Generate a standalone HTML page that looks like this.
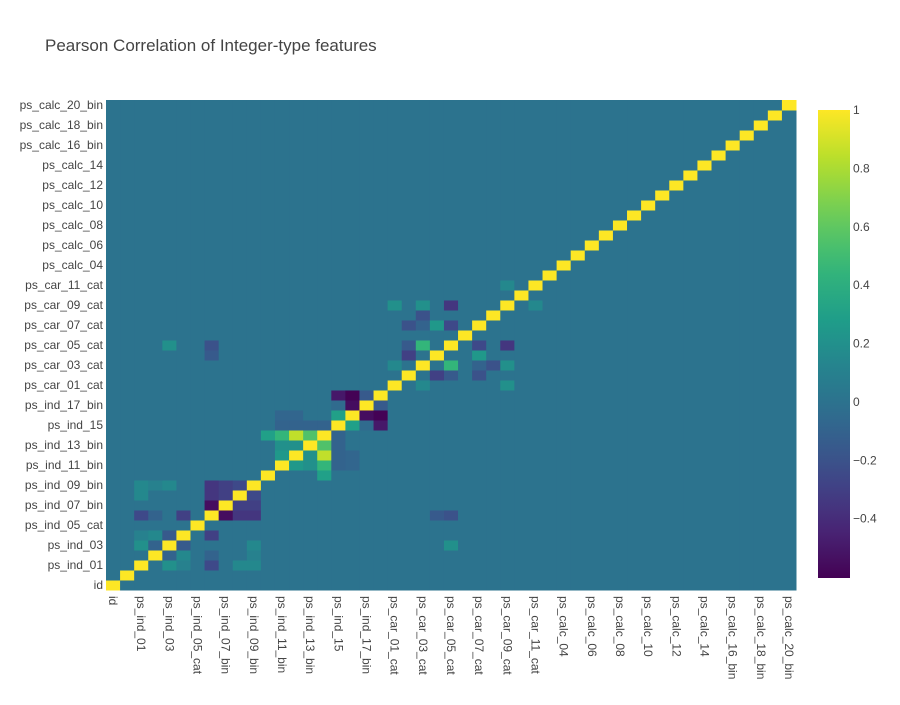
<!DOCTYPE html>
<html><head><meta charset="utf-8"><style>
body{margin:0;background:#fff;font-family:"Liberation Sans",sans-serif;}
svg text{font-family:"Liberation Sans",sans-serif;fill:#444;}
</style></head><body>
<svg id="chart" width="900" height="700">
<text x="45" y="51" font-size="17">Pearson Correlation of Integer-type features</text>
<g id="cells"></g><g id="ylab"></g><g id="xlab"></g>
<defs><linearGradient id="cbg" x1="0" y1="1" x2="0" y2="0"></linearGradient></defs>
<rect x="818" y="110" width="32" height="468" fill="url(#cbg)"/>
<g id="cbticks"></g>
</svg>
<script>
const features=["id","target","ps_ind_01","ps_ind_02_cat","ps_ind_03","ps_ind_04_cat","ps_ind_05_cat","ps_ind_06_bin","ps_ind_07_bin","ps_ind_08_bin","ps_ind_09_bin","ps_ind_10_bin","ps_ind_11_bin","ps_ind_12_bin","ps_ind_13_bin","ps_ind_14","ps_ind_15","ps_ind_16_bin","ps_ind_17_bin","ps_ind_18_bin","ps_car_01_cat","ps_car_02_cat","ps_car_03_cat","ps_car_04_cat","ps_car_05_cat","ps_car_06_cat","ps_car_07_cat","ps_car_08_cat","ps_car_09_cat","ps_car_10_cat","ps_car_11_cat","ps_car_11","ps_calc_04","ps_calc_05","ps_calc_06","ps_calc_07","ps_calc_08","ps_calc_09","ps_calc_10","ps_calc_11","ps_calc_12","ps_calc_13","ps_calc_14","ps_calc_15_bin","ps_calc_16_bin","ps_calc_17_bin","ps_calc_18_bin","ps_calc_19_bin","ps_calc_20_bin"];
const pairRows=[2,2,2,2,2,3,3,3,4,4,4,5,5,5,7,7,7,7,7,8,8,9,9,10,10,11,12,12,12,13,13,14,16,16,16,16,16,16,16,17,17,17,17,18,20,20,21,22,22,22,22,23,24,24,24,4,7,7,28,21,26];
const pairCols=[4,5,7,9,10,4,5,7,10,3,5,3,4,7,3,5,8,9,10,9,10,10,2,2,3,15,13,14,15,14,15,15,17,19,18,12,13,14,15,18,19,12,13,19,22,28,23,24,28,27,26,26,28,26,21,24,24,23,30,24,21];
const pairVals=[0.2,0.1,-0.25,0.15,0.15,-0.1,0.15,-0.1,0.15,-0.1,-0.1,0.15,-0.15,-0.3,-0.1,-0.3,-0.55,-0.35,-0.35,-0.3,-0.3,-0.25,0.15,0.15,0.1,0.3,0.25,0.2,0.45,0.2,0.85,0.55,0.3,-0.5,-0.05,-0.1,-0.1,-0.1,-0.1,-0.55,-0.6,-0.08,-0.08,-0.15,0.15,0.2,-0.3,0.45,0.2,-0.2,-0.1,0.25,-0.35,-0.25,-0.15,0.2,-0.2,-0.15,0.15,-0.15,-0.2];
const cbTicks=[1,0.8,0.6,0.4,0.2,0,-0.2,-0.4];
const cbLabels=["1","0.8","0.6","0.4","0.2","0","\u22120.2","\u22120.4"];
const zmin=-0.603,zmax=1;
const vir=[[68,1,84],[72,40,120],[62,74,137],[49,104,142],[38,130,142],[31,158,137],[53,183,121],[109,205,89],[180,222,44],[253,231,37]];
function col(v){let t=(v-zmin)/(zmax-zmin);t=Math.max(0,Math.min(1,t))*9;const i=Math.min(8,Math.floor(t)),f=t-i;const a=vir[i],b=vir[i+1];return `rgb(${a.map((c,k)=>Math.round(c+(b[k]-c)*f)).join(',')})`;}
const n=features.length,X0=106,X1=796,Y0=100,Y1=590,cw=(X1-X0)/n,ch=(Y1-Y0)/n;
const xs=i=>X0+i*cw, ys=j=>Y1-(j+1)*ch;
const z=[];for(let i=0;i<n;i++){z.push(new Array(n).fill(0.005));z[i][i]=1;}
pairRows.forEach((r,k)=>{z[r][pairCols[k]]=pairVals[k];z[pairCols[k]][r]=pairVals[k];});
const NS="http://www.w3.org/2000/svg";
const cg=document.getElementById('cells');
for(let r=0;r<n;r++)for(let c=0;c<n;c++){const e=document.createElementNS(NS,'rect');
e.setAttribute('x',xs(c));e.setAttribute('y',ys(r));e.setAttribute('width',cw+0.5);e.setAttribute('height',ch+0.5);e.setAttribute('fill',col(z[r][c]));


cg.appendChild(e);}
const yl=document.getElementById('ylab'),xl=document.getElementById('xlab');
for(let i=0;i<n;i+=2){const t=document.createElementNS(NS,'text');t.setAttribute('x',103);t.setAttribute('y',ys(i)+ch/2+4);t.setAttribute('text-anchor','end');t.setAttribute('font-size','12');t.textContent=features[i];


yl.appendChild(t);
const u=document.createElementNS(NS,'text');const cx=xs(i)+cw/2-4;u.setAttribute('transform',`translate(${cx},596) rotate(90)`);u.setAttribute('font-size','12');u.textContent=features[i];


xl.appendChild(u);}
const g=document.getElementById('cbg');
for(let k=0;k<=20;k++){const s=document.createElementNS(NS,'stop');const v=zmin+(zmax-zmin)*k/20;s.setAttribute('offset',k/20);s.setAttribute('stop-color',col(v));g.appendChild(s);}
const cy=v=>578-(v-zmin)/(zmax-zmin)*468;
const tg=document.getElementById('cbticks');
cbTicks.forEach((v,k)=>{const t=document.createElementNS(NS,'text');t.setAttribute('x',853);t.setAttribute('y',cy(v)+4);t.setAttribute('font-size','12');t.textContent=cbLabels[k];


tg.appendChild(t);});
</script>
</body></html>
